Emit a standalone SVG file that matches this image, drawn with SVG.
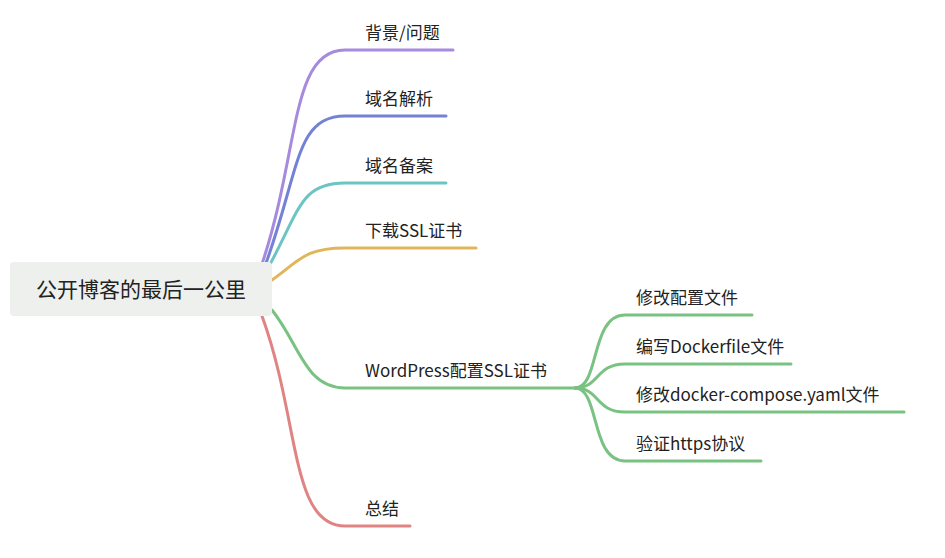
<svg xmlns="http://www.w3.org/2000/svg" width="945" height="558" viewBox="0 0 945 558">
<style>
.c{fill:none;stroke-width:3;stroke-linecap:round}
.t{font-family:"Noto Sans CJK SC","Liberation Sans",sans-serif;font-size:17px;fill:#222}
.r{font-family:"Noto Sans CJK SC","Liberation Sans",sans-serif;font-size:21px;fill:#222}
</style>
<rect width="945" height="558" fill="#fff"/>
<g id="connectors">
<path class="c" stroke="#a68ade" d="M262,264 C300,150 290,50 345,50 H453"/>
<path class="c" stroke="#7482d6" d="M265,266 C300,170 295,116 345,116 H446"/>
<path class="c" stroke="#6cc4c4" d="M268,268 C300,210 300,183 345,183 H446"/>
<path class="c" stroke="#dfb75a" d="M272,280 C300,260 305,248 345,248 H476"/>
<path class="c" stroke="#79c282" d="M272,310 C300,345 305,388 345,388 H575"/>
<path class="c" stroke="#e08383" d="M262,316 C300,420 290,526 345,526 H410"/>
<path class="c" stroke="#79c282" d="M575,388 C600,388 590,315 625,315 H752"/>
<path class="c" stroke="#79c282" d="M575,388 C600,388 595,364 625,364 H791"/>
<path class="c" stroke="#79c282" d="M575,388 C600,388 595,412 625,412 H904"/>
<path class="c" stroke="#79c282" d="M575,388 C600,388 590,461 625,461 H761"/>
</g>
<g id="root"><rect x="10" y="262" width="262" height="54" rx="4" fill="#eef0ee"/><text class="r" x="141" y="297" text-anchor="middle">公开博客的最后一公里</text></g>
<g id="n1"><text class="t" x="365" y="39">背景/问题</text></g>
<g id="n2"><text class="t" x="365" y="105">域名解析</text></g>
<g id="n3"><text class="t" x="365" y="172">域名备案</text></g>
<g id="n4"><text class="t" x="365" y="237">下载SSL证书</text></g>
<g id="n5"><text class="t" x="365" y="377">WordPress配置SSL证书</text></g>
<g id="n6"><text class="t" x="365" y="515">总结</text></g>
<g id="s1"><text class="t" x="636" y="304">修改配置文件</text></g>
<g id="s2"><text class="t" x="636" y="353">编写Dockerfile文件</text></g>
<g id="s3"><text class="t" x="636" y="401">修改docker-compose.yaml文件</text></g>
<g id="s4"><text class="t" x="636" y="450">验证https协议</text></g>
</svg>
